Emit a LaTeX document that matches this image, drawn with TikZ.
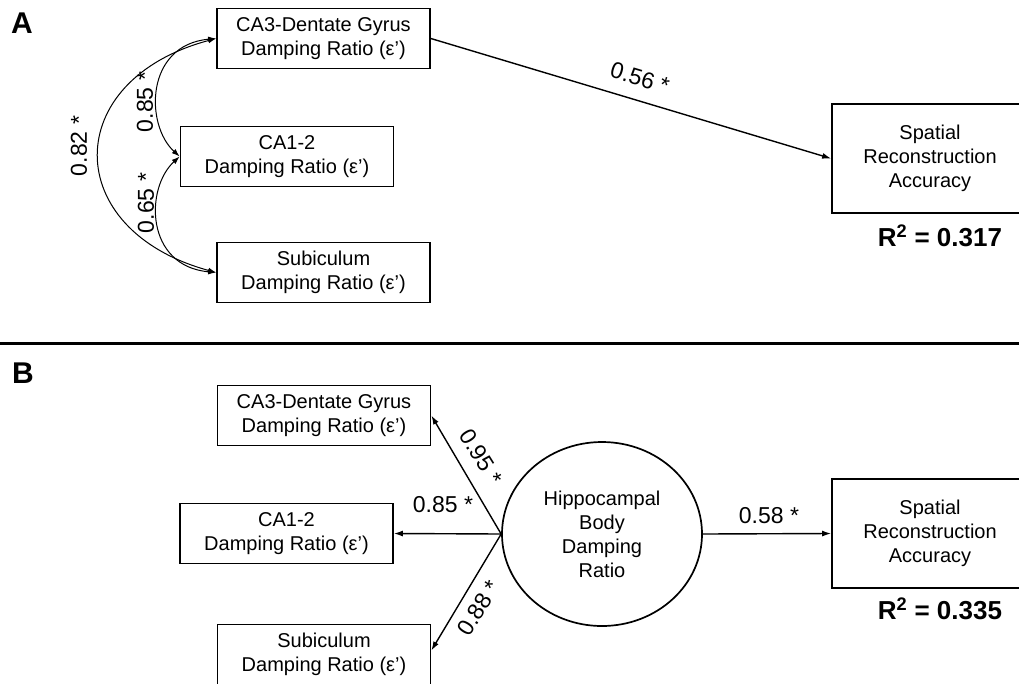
\documentclass[tikz,border=0pt]{standalone}
\usepackage{fontspec}
\setmainfont{Liberation Sans}
\usetikzlibrary{arrows.meta,calc,shapes.geometric}
\begin{document}
\begin{tikzpicture}[x=1pt,y=-1pt,
  box/.style={draw, line width=1.7pt, minimum width=213pt, minimum height=60pt, inner sep=0pt, align=center, font=\fontsize{20}{24}\selectfont},
  bigbox/.style={box, minimum width=196pt, minimum height=109pt},
  lab/.style={font=\fontsize{23}{26}\selectfont, inner sep=0pt},
  rsq/.style={font=\bfseries\fontsize{26}{30}\selectfont, inner sep=0pt},
  panel/.style={font=\bfseries\fontsize{30}{34}\selectfont, inner sep=0pt},
  arr/.style={line width=1.4pt, -{Latex[length=9pt,width=6pt]}},
  carr/.style={line width=1pt, {Latex[length=8pt,width=5.5pt]}-{Latex[length=8pt,width=5.5pt]}}]
\useasboundingbox (0,0) rectangle (1019,683);
\fill[white] (0,0) rectangle (1019,683);
\clip (0,0) rectangle (1019,683);

% Panel A
\node[panel] (lA) at (22,23) {A};
\node[box] (CA3A) at (323.5,38.5) {CA3-Dentate Gyrus\\Damping Ratio (ε’)};
\node[box] (CA12A) at (287,156.5) {CA1-2\\Damping Ratio (ε’)};
\node[box] (SubA) at (323.5,272.5) {Subiculum\\Damping Ratio (ε’)};
\node[bigbox] (SpA) at (930,158.5) {Spatial\\Reconstruction\\Accuracy};
\node[rsq] (r2A) at (940,236) {R\textsuperscript{2} = 0.317};

\draw[arr] (CA3A.east) -- (SpA.west);
\node[lab, rotate=-16.7] (l56) at (640,78) {0.56 *};

\draw[carr] (CA3A.west) .. controls (60,80) and (60,230) .. (SubA.west);
\draw[carr] (CA3A.west) .. controls (145,45) and (145,125) .. (CA12A.west);
\draw[carr] (CA12A.west) .. controls (145,188) and (145,266) .. (SubA.west);
\node[lab, rotate=90] (l82) at (79,146) {0.82 *};
\node[lab, rotate=90] (l85a) at (145,102) {0.85 *};
\node[lab, rotate=90] (l65) at (146,203) {0.65 *};

% divider
\draw[line width=3pt] (0,343) -- (1019,343);

% Panel B
\node[panel] (lB) at (23,373) {B};
\node[box] (CA3B) at (324,415.5) {CA3-Dentate Gyrus\\Damping Ratio (ε’)};
\node[box] (CA12B) at (286.5,533.5) {CA1-2\\Damping Ratio (ε’)};
\node[box] (SubB) at (324,654.5) {Subiculum\\Damping Ratio (ε’)};
\node[draw, ellipse, line width=1.7pt, minimum width=200pt, minimum height=184pt, inner sep=0pt, align=center, font=\fontsize{20}{24}\selectfont] (HB) at (602,534) {Hippocampal\\Body\\Damping\\Ratio};
\node[bigbox] (SpB) at (930,533.5) {Spatial\\Reconstruction\\Accuracy};
\node[rsq] (r2B) at (940,609) {R\textsuperscript{2} = 0.335};

\coordinate (subtip) at ($(SubB.east)+(0,-4)$);
\draw[arr] (HB.west) -- (CA3B.east);
\draw[arr] (HB.west) -- (CA12B.east);
\draw[arr] (HB.west) -- (subtip);
\draw[arr] (HB.east) -- (SpB.west);
\node[lab, rotate=-58] (l95) at (481,457) {0.95 *};
\node[lab] (l85b) at (443,505) {0.85 *};
\node[lab, rotate=58] (l88) at (479,608) {0.88 *};
\node[lab] (l58) at (769,516) {0.58 *};
\end{tikzpicture}
\end{document}
